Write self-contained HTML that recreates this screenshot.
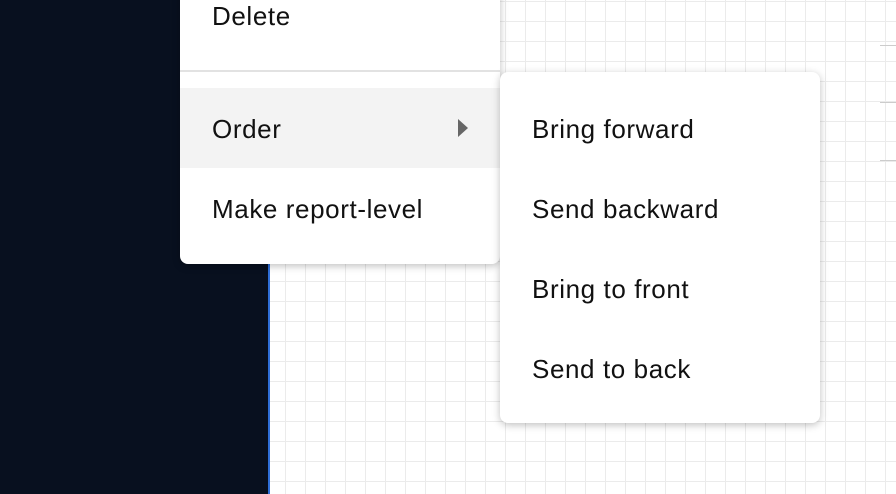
<!DOCTYPE html>
<html><head><style>
html,body{margin:0;padding:0;width:896px;height:494px;overflow:hidden;}
body{position:relative;font-family:"Liberation Sans",Roboto,sans-serif;
background-color:#fff;
background-image:linear-gradient(to right,#ebebeb 1px,transparent 1px),linear-gradient(to bottom,#ebebeb 1px,transparent 1px);
background-size:20px 20px;background-position:5px 1px;}
.dark{position:absolute;left:0;top:0;width:268px;height:494px;background:#08101f;}
.blue{position:absolute;left:268px;top:0;width:2px;height:494px;background:#2f6fd8;}
.tick{position:absolute;left:880px;width:16px;height:1px;background:#ccc;}
.menu{position:absolute;background:#fff;border-radius:0 0 8px 8px;box-shadow:0 2px 8px rgba(0,0,0,0.25);}
.item{position:absolute;left:0;right:0;height:80px;line-height:82px;padding-left:32px;font-size:26px;letter-spacing:0.6px;color:#111;}
</style></head><body>
<div class="dark"></div><div class="blue"></div>
<div class="tick" style="top:45px"></div>
<div class="tick" style="top:102px"></div>
<div class="tick" style="top:160px"></div>
<div class="menu" style="left:180px;top:-10px;width:320px;height:274px;">
  <div class="item" style="top:-15px">Delete</div>
  <div style="position:absolute;left:0;right:0;top:80px;height:2px;background:#e2e2e2"></div>
  <div class="item" style="top:98px;background:#f3f3f3">Order
    <span style="position:absolute;left:278px;top:31px;width:0;height:0;border-left:10px solid #666;border-top:9px solid transparent;border-bottom:9px solid transparent"></span></div>
  <div class="item" style="top:178px">Make report-level</div>
</div>
<div class="menu" style="left:500px;top:72px;width:320px;height:351px;border-radius:8px;">
  <div class="item" style="top:16px">Bring forward</div>
  <div class="item" style="top:96px">Send backward</div>
  <div class="item" style="top:176px">Bring to front</div>
  <div class="item" style="top:256px">Send to back</div>
</div>
</body></html>
